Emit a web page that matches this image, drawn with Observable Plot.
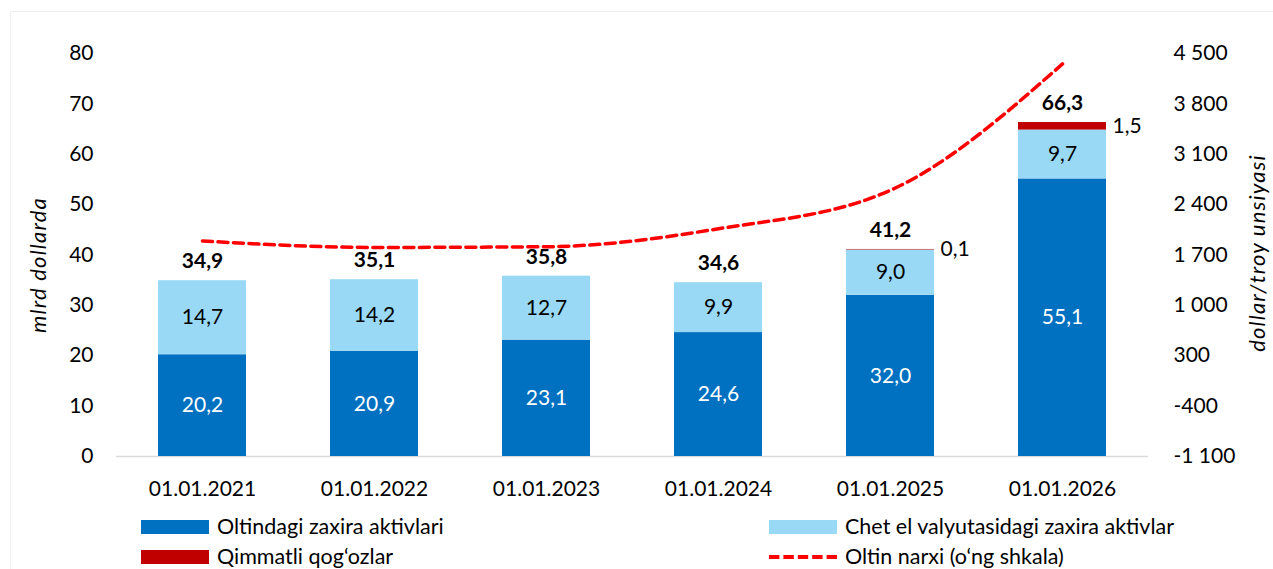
<!DOCTYPE html>
<html><head><meta charset="utf-8">
<script src="https://cdn.jsdelivr.net/npm/d3@7"></script>
<script src="https://cdn.jsdelivr.net/npm/@observablehq/plot@0.6"></script>
<style>
body{margin:0;background:#fff;font-family:Lato,"Noto Sans",sans-serif;}
#wrap{position:relative;width:1273px;height:569px;overflow:hidden;background:#fff;}
#frame{position:absolute;left:10px;top:11px;width:1300px;height:600px;border:1px solid #efefef;box-sizing:border-box;}
#chart{position:absolute;left:0;top:0;}
#legend{position:absolute;left:0;top:505px;width:1273px;height:64px;font-size:21.5px;line-height:1;color:#000;}
.item{position:absolute;display:flex;align-items:center;height:24px;white-space:nowrap;}
.item span{line-height:1;}
.sw{width:68px;height:14px;margin-right:8px;}
</style></head>
<body><div id="wrap"><div id="frame"></div><div id="chart"></div><div id="legend"></div></div>
<script>
const dates = ["01.01.2021","01.01.2022","01.01.2023","01.01.2024","01.01.2025","01.01.2026"];
const goldAssets = [20.2,20.9,23.1,24.6,32.0,55.1];
const fxAssets = [14.7,14.2,12.7,9.9,9.0,9.7];
const securities = [0,0,0,0,0.1,1.5];
const totals = [34.9,35.1,35.8,34.6,41.2,66.3];
const goldPrice = [1895,1805,1815,2065,2600,4355];
const leftTicks = [0,10,20,30,40,50,60,70,80];
const rightTicks = [-1100,-400,300,1000,1700,2400,3100,3800,4500];
const seriesNames = ["Oltindagi zaxira aktivlari","Chet el valyutasidagi zaxira aktivlar","Qimmatli qog\u2018ozlar"];
const lineName = "Oltin narxi (o\u2018ng shkala)";
const leftTitle = "mlrd dollarda";
const rightTitle = "dollar/troy unsiyasi";
const colors = ["#0070C0","#99D9F5","#C00000"];
const lineColor = "#FF0000";

const lMin = leftTicks[0], lMax = leftTicks[leftTicks.length-1];
const rMin = rightTicks[0], rMax = rightTicks[rightTicks.length-1];
const toLeft = p => lMin + (p - rMin) / (rMax - rMin) * (lMax - lMin);
const fromLeft = v => rMin + (v - lMin) / (lMax - lMin) * (rMax - rMin);
const fmt = v => v.toFixed(1).replace(".", ",");
const fmtK = n => { n = Math.round(n); const s = Math.abs(n).toString().replace(/\B(?=(\d{3})+(?!\d))/g, "\u00a0"); return (n < 0 ? "-" : "") + s; };

const table = [];
dates.forEach((d, i) => {
  table.push({date: d, series: seriesNames[0], value: goldAssets[i]});
  table.push({date: d, series: seriesNames[1], value: fxAssets[i]});
  table.push({date: d, series: seriesNames[2], value: securities[i]});
});
const totalRows = dates.map((d, i) => ({date: d, total: totals[i]}));
const lineRows = dates.map((d, i) => ({date: d, price: goldPrice[i]}));
const FS = 21;

const plot = Plot.plot({
  width: 1273, height: 505,
  marginLeft: 116, marginRight: 125, marginTop: 53, marginBottom: 49,
  style: {fontFamily: "Lato, 'Noto Sans', sans-serif", fontSize: FS + "px", color: "#000", background: "transparent", overflow: "visible"},
  x: {domain: dates, paddingInner: 0.49, paddingOuter: 0.245, label: null},
  y: {domain: [lMin, lMax], label: null},
  color: {domain: seriesNames, range: colors},
  marks: [
    Plot.ruleY([0], {stroke: "#d9d9d9", strokeWidth: 1.5}),
    Plot.barY(table, {x: "date", y: "value", fill: "series", z: "series", order: seriesNames}),
    Plot.text(table, Plot.stackY({x: "date", y: "value", z: "series", order: seriesNames,
      text: d => d.series === seriesNames[0] ? fmt(d.value) : "", fill: "white", fontSize: FS})),
    Plot.text(table, Plot.stackY({x: "date", y: "value", z: "series", order: seriesNames,
      text: d => d.series === seriesNames[1] ? fmt(d.value) : "", fill: "black", fontSize: FS})),
    Plot.text(table, Plot.stackY({x: "date", y: "value", z: "series", order: seriesNames,
      text: d => d.series === seriesNames[2] && d.value > 0 ? fmt(d.value) : "", fill: "black", fontSize: FS, textAnchor: "start", dx: 50})),
    Plot.text(totalRows, {x: "date", y: "total", text: d => fmt(d.total), fontWeight: "bold", fontSize: FS, dy: -19, fill: "black"}),
    Plot.line(lineRows, {x: "date", y: d => toLeft(d.price), stroke: lineColor, strokeWidth: 3.5, strokeDasharray: "10,5.5", curve: "monotone-x"}),
    Plot.axisX({tickSize: 0, tickPadding: 25, fontSize: FS, label: null}),
    Plot.axisY(leftTicks, {anchor: "left", tickSize: 0, tickPadding: 23, fontSize: FS, label: null}),
    Plot.axisY(rightTicks.map(toLeft), {anchor: "right", tickSize: 0, tickPadding: 25, fontSize: FS, label: null, textAnchor: "start", tickFormat: v => fmtK(fromLeft(v))}),
    Plot.text([leftTitle], {frameAnchor: "left", text: d => d, rotate: -90, textAnchor: "middle", dx: -78, dy: 10, fontStyle: "italic", fontSize: 22, fill: "black"}),
    Plot.text([rightTitle], {frameAnchor: "right", text: d => d, rotate: -90, textAnchor: "middle", dx: 109, dy: -2, fontStyle: "italic", fontSize: 22, fill: "black"})
  ]
});
document.getElementById("chart").appendChild(plot);
plot.querySelectorAll("text").forEach(t => { if (t.textContent === leftTitle || t.textContent === rightTitle) t.style.letterSpacing = "1.2px"; });

const legend = document.getElementById("legend");
const items = [
  {name: seriesNames[0], color: colors[0], left: 141, top: 10, kind: "box"},
  {name: seriesNames[1], color: colors[1], left: 769, top: 10, kind: "box"},
  {name: seriesNames[2], color: colors[2], left: 141, top: 40, kind: "box"},
  {name: lineName, color: lineColor, left: 769, top: 40, kind: "line"}
];
items.forEach(it => {
  const el = document.createElement("div");
  el.className = "item";
  el.style.left = it.left + "px";
  el.style.top = it.top + "px";
  if (it.kind === "box") {
    const sw = document.createElement("div");
    sw.className = "sw";
    sw.style.background = it.color;
    el.appendChild(sw);
  } else {
    const ns = "http://www.w3.org/2000/svg";
    const svg = document.createElementNS(ns, "svg");
    svg.setAttribute("width", 68); svg.setAttribute("height", 14);
    svg.style.marginRight = "8px";
    const ln = document.createElementNS(ns, "line");
    ln.setAttribute("x1", 0); ln.setAttribute("x2", 68); ln.setAttribute("y1", 7); ln.setAttribute("y2", 7);
    ln.setAttribute("stroke", it.color); ln.setAttribute("stroke-width", 4); ln.setAttribute("stroke-dasharray", "10.4,4");
    svg.appendChild(ln);
    el.appendChild(svg);
  }
  const t = document.createElement("span");
  t.textContent = it.name;
  el.appendChild(t);
  legend.appendChild(el);
});
</script></body></html>
